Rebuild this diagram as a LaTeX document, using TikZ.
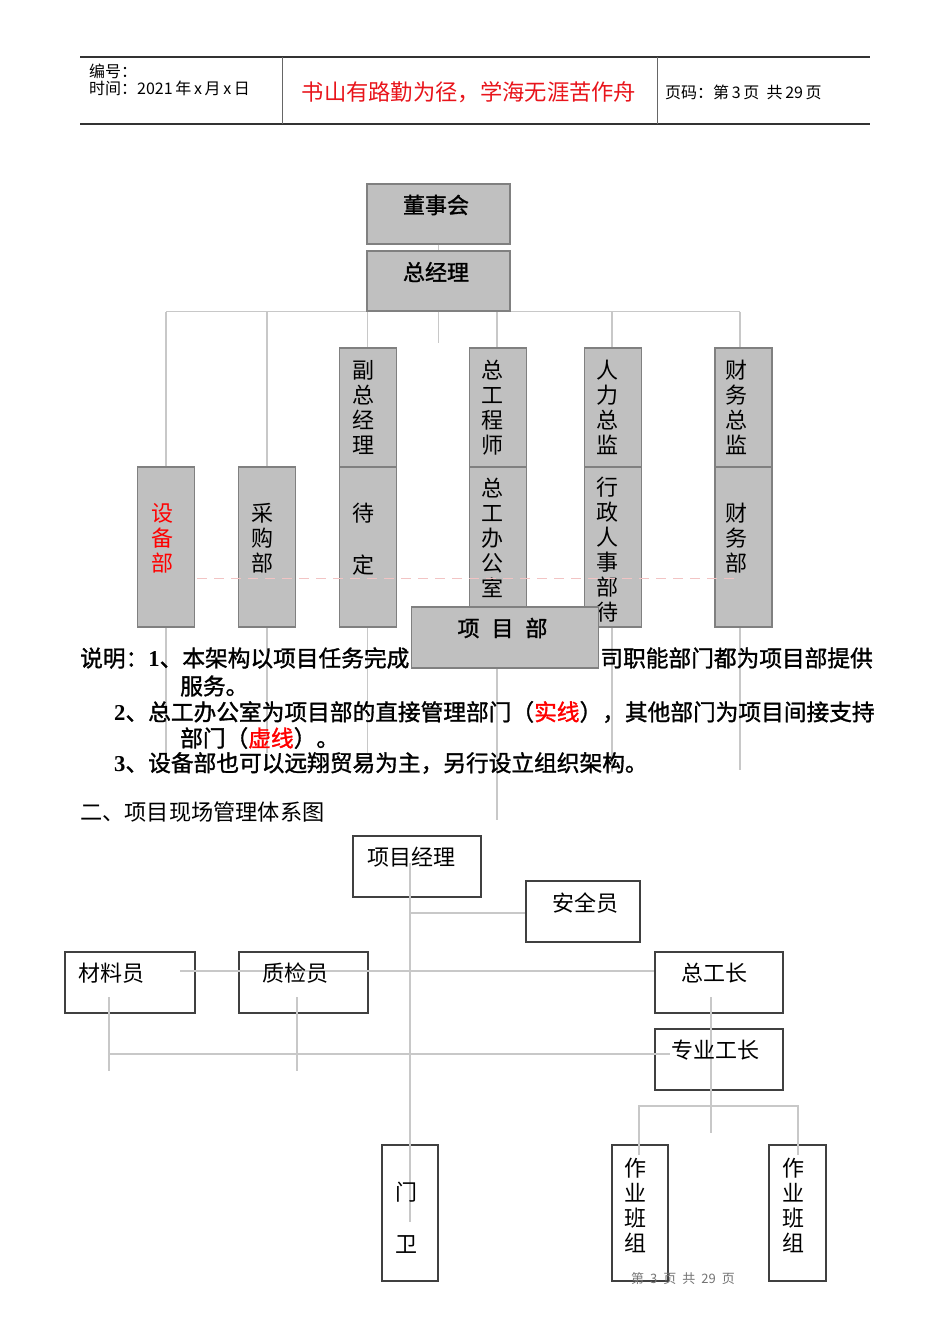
\documentclass[tikz,border=0pt]{standalone}
\usepackage{fontspec}
\setmainfont{Liberation Serif}
\newfontfamily\cjk{Noto Sans CJK SC}
\newfontfamily\cjkm{Noto Sans CJK SC}[FakeBold=1.4]
\newfontfamily\tnr{Liberation Serif}
\newcommand\setfs[1]{\fontsize{#1}{25}\selectfont}
\definecolor{boxgray}{HTML}{C0C0C0}
\definecolor{edgegray}{HTML}{808080}
\definecolor{linegray}{HTML}{C8C8C8}
\definecolor{hdred}{HTML}{E8141B}
\definecolor{dashpink}{HTML}{F2C4C4}

\begin{document}
\begin{tikzpicture}[x=1pt, y=-1pt,
  gbox/.style={rectangle, draw=edgegray, fill=boxgray, line width=1.3pt,
    inner sep=0pt, minimum width=57pt},
  wbox/.style={rectangle, draw=black!75, line width=1.4pt, inner sep=0pt,
    minimum height=61pt},
  conn/.style={draw=linegray, line width=1.1pt},
  dashline/.style={draw=dashpink, line width=1pt, dash pattern=on 10pt off 7pt},
  hdtxt/.style={font=\cjk\fontsize{16}{16}\selectfont, inner sep=0pt, anchor=west},
  vtxt/.style={font=\cjk\setfs{22}, align=center, inner sep=0pt},
  btxt/.style={font=\cjkm\setfs{22}, inner sep=0pt},
  para/.style={font=\cjkm\setfs{22.7}, inner sep=0pt, anchor=west},
  t2/.style={font=\cjk\setfs{22}, inner sep=0pt},
]
\useasboundingbox (0,0) rectangle (950,1344);

% header
\draw[line width=1.3pt, black!80] (80,57) -- (870,57);
\draw[line width=1.3pt, black!80] (80,124) -- (870,124);
\draw[line width=0.9pt, black!60] (282,57) -- (282,124);
\draw[line width=0.9pt, black!60] (657,57) -- (657,124);
\node[hdtxt] (bianhao) at (89,71) {编号：};
\node[hdtxt] (shijian) at (89,88) {时间：2021\,年\,x\,月\,x\,日};
\node[font=\cjk\fontsize{22.3}{22}\selectfont, text=hdred, inner sep=0pt]
  (motto) at (469,92.5) {书山有路勤为径，学海无涯苦作舟};
\node[hdtxt] (yema) at (665,92.5) {页码：第\,3\,页\ \ 共\,29\,页};

% company chart: bar and drops
\coordinate (b1) at (166,311.5);   \coordinate (e1) at (166,753);
\coordinate (b2) at (267,311.5);   \coordinate (e2) at (267,753);
\coordinate (b3) at (367.5,311.5); \coordinate (e3) at (367.5,753);
\coordinate (b4) at (497,311.5);   \coordinate (e4) at (497,820);
\coordinate (b5) at (612,311.5);   \coordinate (e5) at (612,772);
\coordinate (b6) at (740,311.5);   \coordinate (e6) at (740,770);
\coordinate (stub) at (438.5,343);
\draw[conn] (b1) -- (b6);
\foreach \i in {1,...,6}
  \draw[conn] (b\i) -- (e\i);

\node[gbox, minimum width=143pt, minimum height=60pt] (dsh) at (438.5,214) {};
\node[gbox, minimum width=143pt, minimum height=60pt] (zjl) at (438.5,281) {};
\draw[conn] (dsh.south) -- (zjl.north);
\draw[conn] (zjl.south) -- (stub);
\node[btxt] (dsh-t) at (436,205) {董事会};
\node[btxt] (zjl-t) at (436,272) {总经理};

% departments
\node[gbox, minimum height=160pt] (sbb) at (166.3,547) {};
\node[gbox, minimum height=160pt] (cgb) at (267.2,547) {};
\node[gbox, minimum height=119pt] (fzjl) at (368.2,407.5) {};
\node[gbox, minimum height=160pt] (dd) at (368.2,547) {};
\node[gbox, minimum height=119pt] (zgcs) at (497.7,407.5) {};
\node[gbox, minimum height=160pt] (zgbgs) at (497.7,547) {};
\node[gbox, minimum height=119pt] (rlzj) at (613.3,407.5) {};
\node[gbox, minimum height=160pt] (xzrs) at (613.3,547) {};
\node[gbox, minimum height=119pt] (cwzj) at (743.5,407.5) {};
\node[gbox, minimum height=160pt] (cwb) at (743.5,547) {};

\node[vtxt, text=red] (sbb-t) at (162,538) {设\\备\\部};
\node[vtxt] (cgb-t) at (262,538) {采\\购\\部};
\node[vtxt] (fzjl-t) at (363,407.5) {副\\总\\经\\理};
\node[vtxt] (dd-t) at (363,539) {待\\[27pt]定};
\node[vtxt] (zgcs-t) at (492,407.5) {总\\工\\程\\师};
\node[vtxt] (zgbgs-t) at (492,537.5) {总\\工\\办\\公\\室};
\node[vtxt] (rlzj-t) at (607,407.5) {人\\力\\总\\监};
\node[vtxt] (xzrs-t) at (607,549.5) {行\\政\\人\\事\\部\\待};
\node[vtxt] (cwzj-t) at (736,407.5) {财\\务\\总\\监};
\node[vtxt] (cwb-t) at (736,538) {财\\务\\部};

\coordinate (d1) at (197,578);
\coordinate (d2) at (738,578);
\draw[dashline] (d1) -- (d2);

\node[gbox, minimum width=187pt, minimum height=61pt] (xmb) at (505.2,637.5) {};
\node[btxt] (xmb-t) at (502.5,628) {项\hspace{12pt}目\hspace{12pt}部};

% notes
\node[para] (sm1a) at (80,658) {说明：{\tnr\bfseries 1}、本架构以项目任务完成};
\node[para, anchor=east] (sm1b) at (873,658) {司职能部门都为项目部提供};
\node[para] (sm2) at (180,686) {服务。};
\node[para] (sm3) at (114,712)
  {{\tnr\bfseries 2}、总工办公室为项目部的直接管理部门（\textcolor{red}{实线}），其他部门为项目间接支持};
\node[para] (sm4) at (180,738) {部门（\textcolor{red}{虚线}）。};
\node[para] (sm5) at (114,763) {{\tnr\bfseries 3}、设备部也可以远翔贸易为主，另行设立组织架构。};
\node[para, font=\cjk\setfs{22.2}] (sec2) at (80,812) {二、项目现场管理体系图};

% site chart
\node[wbox, minimum width=128pt] (xmjl) at (417,866.5) {};
\node[wbox, minimum width=114pt] (aqy) at (583,911.5) {};
\node[wbox, minimum width=130pt] (cly) at (130,982.5) {};
\node[wbox, minimum width=129pt] (zjy) at (303.5,982.5) {};
\node[wbox, minimum width=128pt] (zgz) at (719,982.5) {};
\node[wbox, minimum width=128pt] (zygz) at (719,1059.5) {};
\node[wbox, minimum width=56pt, minimum height=136pt] (mw) at (410,1213) {};
\node[wbox, minimum width=56pt, minimum height=136pt] (zybz1) at (640,1213) {};
\node[wbox, minimum width=57pt, minimum height=136pt] (zybz2) at (797.5,1213) {};

\coordinate (pm0) at (410,863);  \coordinate (pm1) at (410,1222);
\coordinate (aqj) at (410,913);
\coordinate (clj) at (180,971);
\coordinate (zg0) at (711,997);  \coordinate (zg1) at (711,1133);
\coordinate (cl0) at (109,997);  \coordinate (cl1) at (109,1071);
\coordinate (zj0) at (297,997);  \coordinate (zj1) at (297,1071);
\coordinate (h3a) at (109,1054); \coordinate (h3b) at (670,1054);
\coordinate (bz0) at (639,1106); \coordinate (bz1) at (798,1106);
\coordinate (bz0d) at (639,1155); \coordinate (bz1d) at (798,1155);
\draw[conn] (pm0) -- (pm1);
\draw[conn] (aqj) -- (aqj -| aqy.west);
\draw[conn] (clj) -- (clj -| zgz.west);
\draw[conn] (zg0) -- (zg1);
\draw[conn] (cl0) -- (cl1);
\draw[conn] (zj0) -- (zj1);
\draw[conn] (h3a) -- (h3b);
\draw[conn] (bz0d) -- (bz0) -- (bz1) -- (bz1d);

\node[t2, anchor=west] (xmjl-t) at (367,857) {项目经理};
\node[t2] (aqy-t) at (585,903) {安全员};
\node[t2] (cly-t) at (111,973) {材料员};
\node[t2] (zjy-t) at (295.5,973) {质检员};
\node[t2] (zgz-t) at (714.5,973) {总工长};
\node[t2] (zygz-t) at (715,1050) {专业工长};
\node[vtxt] (mw-t) at (406,1217.5) {门\\[27pt]卫};
\node[vtxt] (zybz1-t) at (635,1205) {作\\业\\班\\组};
\node[vtxt] (zybz2-t) at (793,1205) {作\\业\\班\\组};

% footer
\node[font=\cjk\fontsize{13}{13}\selectfont, text=black!55, inner sep=0pt] (foot)
  at (683,1279) {第\hspace{6pt}3\hspace{6pt}页\hspace{6pt}共\hspace{6pt}29\hspace{6pt}页};
\end{tikzpicture}
\end{document}
